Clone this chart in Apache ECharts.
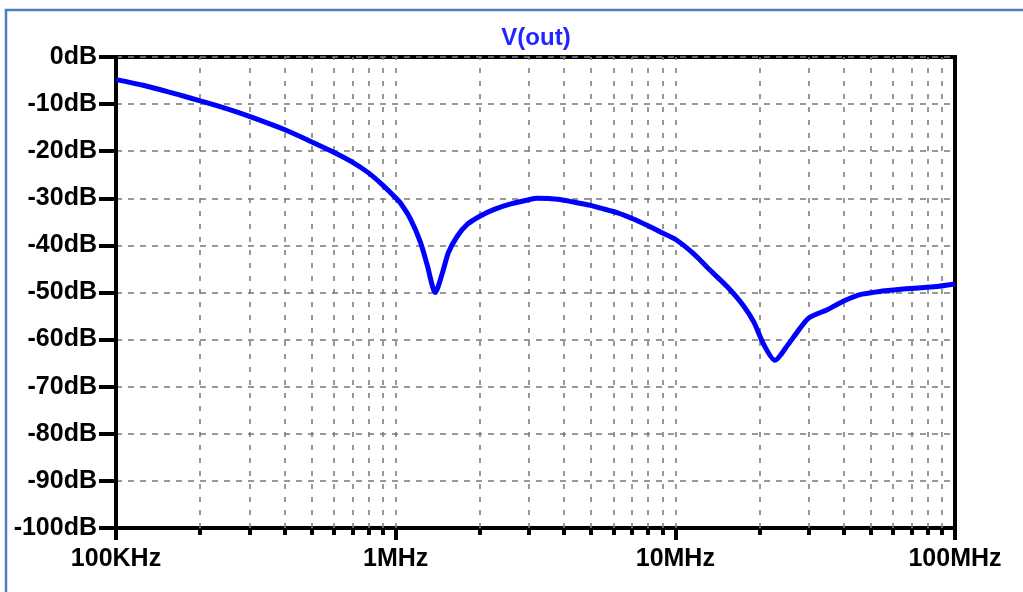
<!DOCTYPE html>
<html>
<head>
<meta charset="utf-8">
<script src="https://cdn.jsdelivr.net/npm/echarts@6/dist/echarts.min.js"></script>
<style>
html,body{margin:0;padding:0;background:#fff;}
#c{width:1023px;height:592px;}
</style>
</head>
<body>
<div id="c"></div>
<script>
// Frequencies (Hz) and magnitude (dB)
var freqHz = [1e5, 1.25e5, 1.65e5, 2.0e5, 2.5e5, 3.0e5, 4.0e5, 5.0e5, 6.0e5, 7.0e5, 8.0e5, 9.03e5, 1.0e6,
  1.04e6, 1.13e6, 1.226e6, 1.297e6, 1.385e6, 1.47e6, 1.544e6, 1.663e6, 1.806e6, 2.0e6, 2.24e6, 2.58e6,
  2.99e6, 3.22e6, 3.80e6, 4.33e6, 4.98e6, 5.41e6, 6.22e6, 7.08e6, 7.96e6, 8.88e6, 1.0e7,
  1.164e7, 1.339e7, 1.54e7, 1.757e7, 1.909e7, 2.073e7, 2.27e7, 2.527e7, 2.744e7, 3.0e7, 3.51e7,
  4.0e7, 4.61e7, 5.5e7, 6.41e7, 8.41e7, 1e8];
var vOutDb = [-4.8, -6.0, -7.9, -9.3, -11.0, -12.6, -15.4, -18.0, -20.2, -22.3, -24.6, -27.3, -29.9,
  -31.0, -34.4, -39.3, -44.2, -50.0, -45.8, -41.5, -38.0, -35.5, -33.8, -32.4, -31.2,
  -30.3, -30.0, -30.2, -30.8, -31.5, -32.1, -33.1, -34.4, -35.8, -37.2, -38.7,
  -41.8, -45.4, -48.9, -52.9, -56.3, -61.1, -64.4, -61.1, -58.2, -55.4, -53.6,
  -51.8, -50.4, -49.7, -49.3, -48.8, -48.2];

var xTickValues = [1e5, 1e6, 1e7, 1e8];
var xTickLabels = ['100KHz', '1MHz', '10MHz', '100MHz'];
var minorFreqs = [2e5,3e5,4e5,5e5,6e5,7e5,8e5,9e5, 2e6,3e6,4e6,5e6,6e6,7e6,8e6,9e6, 2e7,3e7,4e7,5e7,6e7,7e7,8e7,9e7];
var gridFreqs = minorFreqs.concat([1e6, 1e7]);

var chart = echarts.init(document.getElementById('c'));
var labelFont = {fontFamily: 'Liberation Sans, Arial, sans-serif', fontWeight: 'bold', fontSize: 25, color: '#000'};

var series = [{
  type: 'line',
  name: 'V(out)',
  data: freqHz.map(function (f, i) { return [f, vOutDb[i]]; }),
  showSymbol: false,
  symbol: 'none',
  smooth: 0.25,
  lineStyle: {color: '#0000ff', width: 5},
  z: 5,
  markLine: {
    silent: true,
    symbol: 'none',
    label: {show: false},
    lineStyle: {color: '#7f7f7f', type: [5, 8], width: 1.6},
    data: gridFreqs.map(function (f) { return {xAxis: f}; }),
    animation: false
  }
}];

chart.setOption({
  animation: false,
  backgroundColor: '#fff',
  title: {
    text: 'V(out)', left: 531, top: 21, textAlign: 'center',
    textStyle: {color: '#2424ff', fontFamily: 'Liberation Sans, Arial, sans-serif', fontWeight: 'bold', fontSize: 24}
  },
  grid: {left: 116, right: 68, top: 57, bottom: 64, show: true, borderColor: '#000', borderWidth: 4, backgroundColor: '#fff'},
  xAxis: [{
    type: 'log', logBase: 10, min: 1e5, max: 1e8,
    axisLine: {show: true, onZero: false, lineStyle: {color: '#000', width: 4}},
    axisTick: {show: true, inside: false, length: 12, lineStyle: {color: '#000', width: 4}},
    axisLabel: Object.assign({margin: 19, formatter: function (v) {
      var i = xTickValues.indexOf(v); return i >= 0 ? xTickLabels[i] : '';
    }}, labelFont),
    splitLine: {show: false},
    minorTick: {show: false}
  }, {
    type: 'log', logBase: 10, min: 1e5, max: 1e8, position: 'bottom',
    axisLine: {show: true, onZero: false, lineStyle: {color: '#000', width: 4}},
    axisTick: {show: true, inside: false, length: 7, customValues: minorFreqs, lineStyle: {color: '#000', width: 4}},
    axisLabel: {show: false},
    splitLine: {show: false}
  }],
  yAxis: {
    type: 'value', min: -100, max: 0, interval: 10,
    axisLine: {show: true, onZero: false, lineStyle: {color: '#000', width: 4}},
    axisTick: {show: true, inside: false, length: 17, lineStyle: {color: '#000', width: 4}},
    axisLabel: Object.assign({margin: 19, formatter: function (v) { return v + 'dB'; }}, labelFont),
    splitLine: {show: true, lineStyle: {color: '#7f7f7f', type: [6, 6], width: 1.6}}
  },
  graphic: [{
    type: 'polyline',
    shape: {points: [[6, 592], [6, 10], [1023, 10]]},
    style: {stroke: '#4e7fb5', lineWidth: 2.5, fill: null},
    silent: true
  }],
  series: series
});
</script>
</body>
</html>
